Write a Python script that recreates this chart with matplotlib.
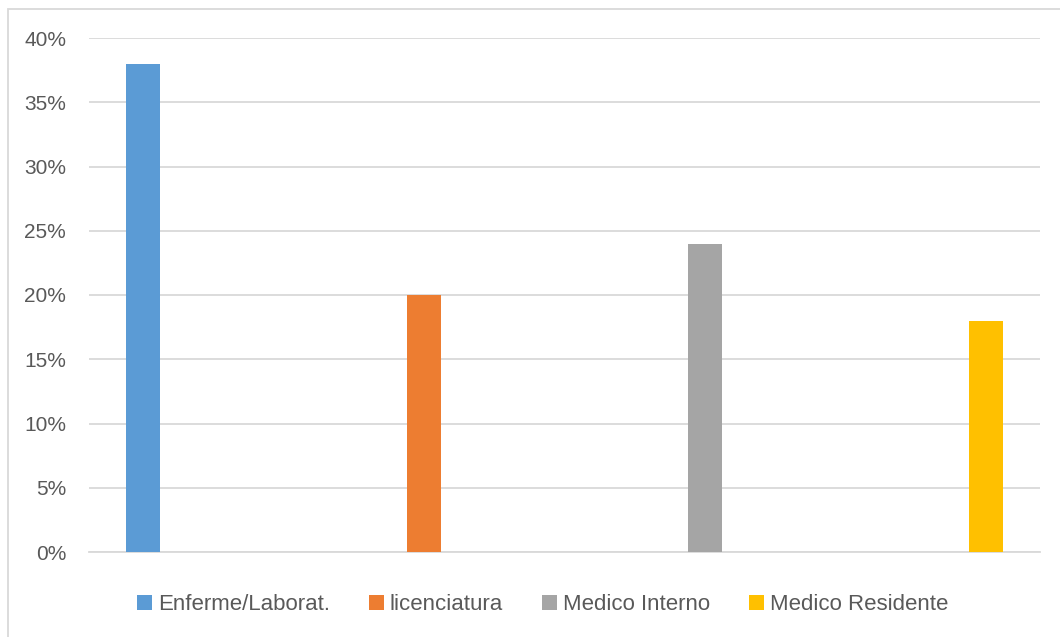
import matplotlib.pyplot as plt
from matplotlib.patches import Rectangle, Patch
from matplotlib.ticker import PercentFormatter

categories = ['Enferme/Laborat.', 'licenciatura', 'Medico Interno', 'Medico Residente']
values = [0.38, 0.20, 0.24, 0.18]
colors = ['#5b9bd5', '#ed7d31', '#a5a5a5', '#ffc000']
yticks = [0, 0.05, 0.10, 0.15, 0.20, 0.25, 0.30, 0.35, 0.40]

plt.rcParams['font.family'] = ['Liberation Sans', 'DejaVu Sans']
textColor = '#595959'
gridColor = '#d9d9d9'

fig = plt.figure(figsize=(10.6, 6.37), dpi=100)
ax = fig.add_axes([89 / 1060, 1 - 552 / 637, (1040 - 89) / 1060, (552 - 38) / 637])

xpos = list(range(len(categories)))
ax.bar(xpos, values, width=0.121, color=colors, zorder=3)

ax.set_xlim(-0.192, 3.192)
ax.set_ylim(0, 0.40)
ax.set_yticks(yticks)
ax.yaxis.set_major_formatter(PercentFormatter(1.0, decimals=0))
ax.set_xticks([])
ax.grid(axis='y', color=gridColor, linewidth=1.3, zorder=0)
ax.tick_params(axis='y', length=0, pad=16.5, labelsize=15, labelcolor=textColor)
for s in ['top', 'right', 'left']:
    ax.spines[s].set_visible(False)
ax.spines['bottom'].set_color(gridColor)
ax.spines['bottom'].set_linewidth(1.3)

# legend below the plot
handles = [Patch(facecolor=c, edgecolor='none') for c in colors]
fig.legend(handles, categories, loc='center', bbox_to_anchor=(0.512, 1 - 605 / 637),
           ncol=4, frameon=False, fontsize=16, labelcolor=textColor,
           handlelength=0.66, handleheight=0.66, handletextpad=0.28, columnspacing=1.75)

# outer chart border
fig.patches.append(Rectangle((8 / 1060, -0.05), 1.1, 1 - 9 / 637 + 0.05,
                             transform=fig.transFigure, fill=False,
                             edgecolor=gridColor, linewidth=1.3))

fig.savefig('out.png', dpi=100)
